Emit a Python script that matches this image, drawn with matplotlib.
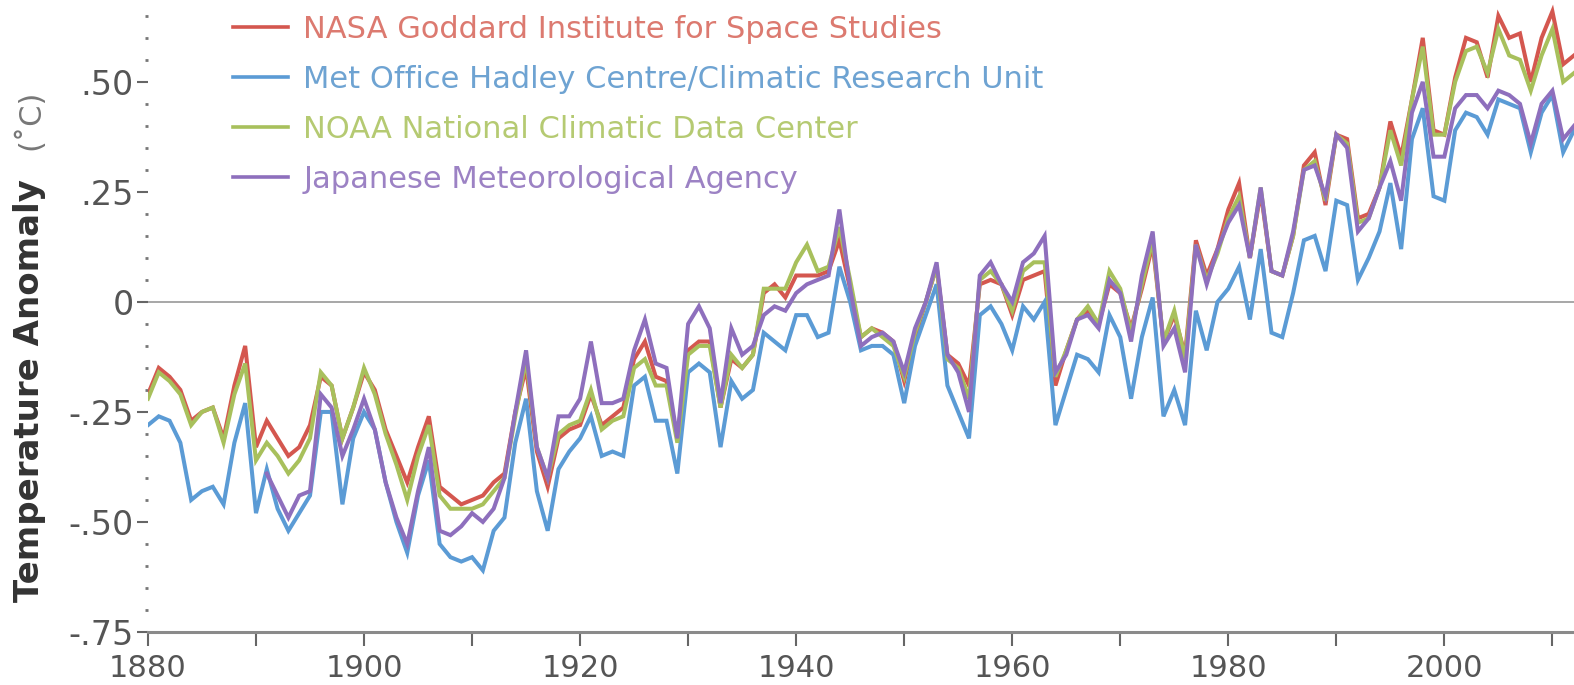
import numpy as np
import matplotlib
matplotlib.use("agg")
import matplotlib.pyplot as plt
from matplotlib.ticker import MultipleLocator, FixedLocator

# annual anomalies, 1880-2012
years = list(range(1880, 2013))

nasa = [-0.21, -0.15, -0.17, -0.20, -0.27, -0.25, -0.24, -0.31, -0.19, -0.10,
        -0.33, -0.27, -0.31, -0.35, -0.33, -0.28, -0.17, -0.19, -0.31, -0.24,
        -0.16, -0.20, -0.29, -0.35, -0.41, -0.33, -0.26, -0.42, -0.44, -0.46,
        -0.45, -0.44, -0.41, -0.39, -0.25, -0.15, -0.34, -0.42, -0.31, -0.29,
        -0.28, -0.21, -0.28, -0.26, -0.24, -0.13, -0.09, -0.17, -0.18, -0.31,
        -0.11, -0.09, -0.09, -0.24, -0.13, -0.15, -0.12, 0.02, 0.04, 0.01,
        0.06, 0.06, 0.06, 0.07, 0.14, 0.03, -0.08, -0.06, -0.07, -0.09,
        -0.18, -0.08, 0.00, 0.08, -0.12, -0.14, -0.19, 0.04, 0.05, 0.04,
        -0.03, 0.05, 0.06, 0.07, -0.19, -0.11, -0.04, -0.02, -0.05, 0.04,
        0.02, -0.06, 0.03, 0.13, -0.09, -0.03, -0.12, 0.14, 0.06, 0.12,
        0.21, 0.27, 0.10, 0.25, 0.07, 0.06, 0.15, 0.31, 0.34, 0.22,
        0.38, 0.37, 0.19, 0.20, 0.26, 0.41, 0.33, 0.46, 0.60, 0.39,
        0.38, 0.51, 0.60, 0.59, 0.51, 0.65, 0.60, 0.61, 0.50, 0.60,
        0.66, 0.54, 0.56]

hadcru = [-0.28, -0.26, -0.27, -0.32, -0.45, -0.43, -0.42, -0.46, -0.32, -0.23,
          -0.48, -0.38, -0.47, -0.52, -0.48, -0.44, -0.25, -0.25, -0.46, -0.31,
          -0.25, -0.29, -0.41, -0.50, -0.57, -0.44, -0.36, -0.55, -0.58, -0.59,
          -0.58, -0.61, -0.52, -0.49, -0.32, -0.22, -0.43, -0.52, -0.38, -0.34,
          -0.31, -0.26, -0.35, -0.34, -0.35, -0.19, -0.17, -0.27, -0.27, -0.39,
          -0.16, -0.14, -0.16, -0.33, -0.18, -0.22, -0.20, -0.07, -0.09, -0.11,
          -0.03, -0.03, -0.08, -0.07, 0.08, 0.00, -0.11, -0.10, -0.10, -0.12,
          -0.23, -0.10, -0.03, 0.04, -0.19, -0.25, -0.31, -0.03, -0.01, -0.05,
          -0.11, -0.01, -0.04, 0.00, -0.28, -0.20, -0.12, -0.13, -0.16, -0.03,
          -0.08, -0.22, -0.08, 0.01, -0.26, -0.20, -0.28, -0.02, -0.11, 0.00,
          0.03, 0.08, -0.04, 0.12, -0.07, -0.08, 0.02, 0.14, 0.15, 0.07,
          0.23, 0.22, 0.05, 0.10, 0.16, 0.27, 0.12, 0.37, 0.44, 0.24,
          0.23, 0.39, 0.43, 0.42, 0.38, 0.46, 0.45, 0.44, 0.34, 0.43,
          0.47, 0.34, 0.39]

noaa = [-0.22, -0.16, -0.18, -0.21, -0.28, -0.25, -0.24, -0.32, -0.21, -0.14,
        -0.36, -0.32, -0.35, -0.39, -0.36, -0.31, -0.16, -0.19, -0.31, -0.24,
        -0.15, -0.21, -0.30, -0.37, -0.45, -0.35, -0.28, -0.44, -0.47, -0.47,
        -0.47, -0.46, -0.43, -0.40, -0.26, -0.13, -0.33, -0.40, -0.30, -0.28,
        -0.27, -0.20, -0.29, -0.27, -0.26, -0.15, -0.13, -0.19, -0.19, -0.32,
        -0.12, -0.10, -0.10, -0.24, -0.12, -0.15, -0.12, 0.03, 0.03, 0.03,
        0.09, 0.13, 0.07, 0.08, 0.17, 0.05, -0.08, -0.06, -0.08, -0.10,
        -0.17, -0.07, 0.00, 0.08, -0.13, -0.15, -0.22, 0.05, 0.07, 0.04,
        -0.02, 0.07, 0.09, 0.09, -0.17, -0.11, -0.04, -0.01, -0.05, 0.07,
        0.03, -0.07, 0.04, 0.14, -0.09, -0.02, -0.13, 0.13, 0.05, 0.11,
        0.19, 0.24, 0.10, 0.26, 0.07, 0.06, 0.15, 0.30, 0.32, 0.23,
        0.38, 0.36, 0.18, 0.19, 0.26, 0.39, 0.31, 0.46, 0.58, 0.38,
        0.38, 0.50, 0.57, 0.58, 0.52, 0.62, 0.56, 0.55, 0.48, 0.56,
        0.62, 0.50, 0.52]

# JMA record starts in 1891
jma = [np.nan] * 11 + [
        -0.39, -0.44, -0.49, -0.44, -0.43, -0.21, -0.24, -0.35, -0.29,
        -0.22, -0.29, -0.41, -0.49, -0.55, -0.43, -0.33, -0.52, -0.53, -0.51,
        -0.48, -0.50, -0.47, -0.40, -0.25, -0.11, -0.33, -0.40, -0.26, -0.26,
        -0.22, -0.09, -0.23, -0.23, -0.22, -0.11, -0.04, -0.14, -0.15, -0.31,
        -0.05, -0.01, -0.06, -0.23, -0.06, -0.12, -0.10, -0.03, -0.01, -0.02,
        0.02, 0.04, 0.05, 0.06, 0.21, 0.03, -0.10, -0.08, -0.07, -0.09,
        -0.16, -0.06, 0.00, 0.09, -0.12, -0.16, -0.25, 0.06, 0.09, 0.04,
        0.00, 0.09, 0.11, 0.15, -0.16, -0.12, -0.04, -0.03, -0.06, 0.05,
        0.02, -0.09, 0.06, 0.16, -0.10, -0.06, -0.16, 0.13, 0.04, 0.12,
        0.18, 0.22, 0.10, 0.26, 0.07, 0.06, 0.16, 0.30, 0.31, 0.24,
        0.38, 0.35, 0.16, 0.19, 0.26, 0.32, 0.23, 0.43, 0.50, 0.33,
        0.33, 0.44, 0.47, 0.47, 0.44, 0.48, 0.47, 0.45, 0.36, 0.45,
        0.48, 0.37, 0.40]

labels = ["NASA Goddard Institute for Space Studies",
          "Met Office Hadley Centre/Climatic Research Unit",
          "NOAA National Climatic Data Center",
          "Japanese Meteorological Agency"]
line_colors = ["#d4574f", "#5b9bd5", "#a8c05c", "#8e6fbd"]
text_colors = ["#dc7a70", "#6ea3d2", "#b5ca72", "#9c82c4"]

fig = plt.figure(figsize=(15.74, 6.85), dpi=100)
ax = fig.add_axes([0.094, 0.0774, 0.906, 0.9226])

ax.axhline(0, color="#a0a0a0", lw=1.3, zorder=1)

series = [nasa, hadcru, noaa, jma]
for i, s in enumerate(series):
    ax.plot(years, s, color=line_colors[i], lw=2.9, label=labels[i],
            solid_joinstyle="miter", zorder=2 + i)

ax.set_xlim(1880, 2012)
ax.set_ylim(-0.75, 0.686)

for side in ["left", "top", "right"]:
    ax.spines[side].set_visible(False)
ax.spines["bottom"].set_color("#8a8a8a")
ax.spines["bottom"].set_linewidth(2.2)

ax.xaxis.set_major_locator(MultipleLocator(20))
ax.xaxis.set_minor_locator(FixedLocator(list(range(1890, 2020, 20))))
ax.tick_params(axis="x", which="both", direction="out", length=10, width=1.5,
               color="#666666", pad=6)
ax.tick_params(axis="x", which="major", labelsize=22, labelcolor="#555555")

yticks = [-0.75, -0.5, -0.25, 0, 0.25, 0.5]
ytick_labels = ["-.75", "-.50", "-.25", "0", ".25", ".50"]
ax.set_yticks(yticks)
ax.set_yticklabels(ytick_labels)
ax.yaxis.set_minor_locator(MultipleLocator(0.05))
ax.tick_params(axis="y", which="major", direction="out", length=8, width=1.5,
               color="#666666", labelsize=24, labelcolor="#555555", pad=2)
ax.tick_params(axis="y", which="minor", direction="out", length=2.5, width=2,
               color="#777777")

leg = ax.legend(loc="upper left", bbox_to_anchor=(0.0596, 0.976), frameon=False,
                fontsize=22, handlelength=1.8, handletextpad=0.5,
                labelspacing=0.68, borderpad=0, borderaxespad=0)
for t, c in zip(leg.get_texts(), text_colors):
    t.set_color(c)
for h in leg.get_lines():
    h.set_linewidth(2.6)

fig.text(0.019, 0.43, "Temperature Anomaly", rotation=90, ha="center",
         va="center", fontsize=24.5, fontweight="bold", color="#333333")
fig.text(0.019, 0.825, "(˚C)", rotation=90, ha="center", va="center",
         fontsize=22, color="#777777")

plt.savefig("out.png", dpi=100)
